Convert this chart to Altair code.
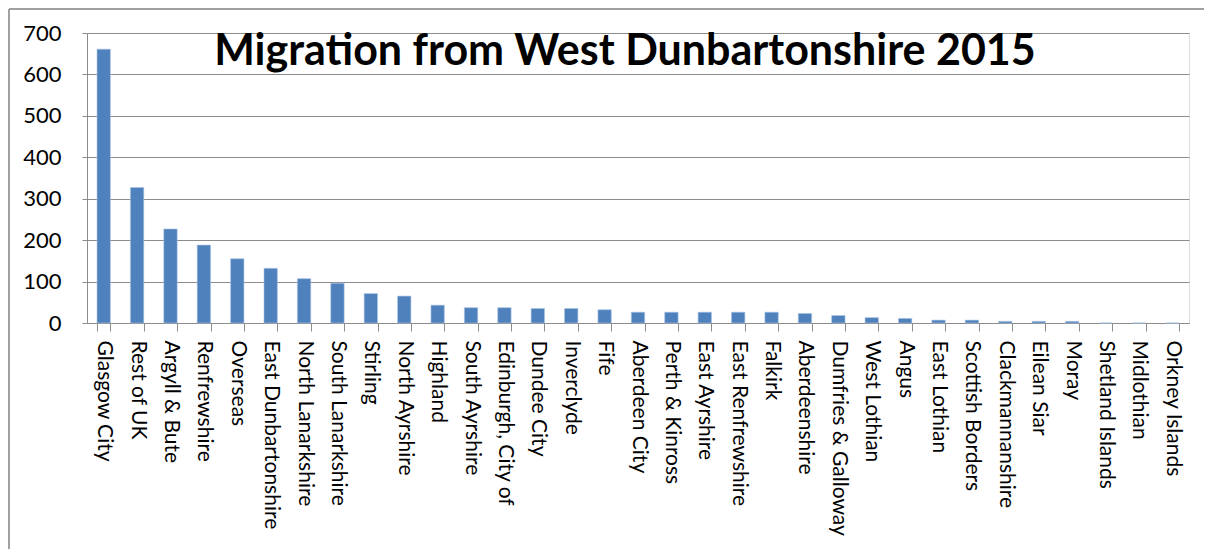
import altair as alt
import pandas as pd

areas = [
    "Glasgow City", "Rest of UK", "Argyll & Bute", "Renfrewshire", "Overseas",
    "East Dunbartonshire", "North Lanarkshire", "South Lanarkshire", "Stirling",
    "North Ayrshire", "Highland", "South Ayrshire", "Edinburgh, City of",
    "Dundee City", "Inverclyde", "Fife", "Aberdeen City", "Perth & Kinross",
    "East Ayrshire", "East Renfrewshire", "Falkirk", "Aberdeenshire",
    "Dumfries & Galloway", "West Lothian", "Angus", "East Lothian",
    "Scottish Borders", "Clackmannanshire", "Eilean Siar", "Moray",
    "Shetland Islands", "Midlothian", "Orkney Islands",
]
migrants = [
    661, 327, 227, 188, 155,
    132, 107, 96, 71,
    65, 43, 37, 37,
    35, 35, 32, 26, 26,
    26, 26, 26, 23,
    18, 13, 11, 7,
    7, 4, 4, 4,
    0, 0, 0,
]
y_ticks = [0, 100, 200, 300, 400, 500, 600, 700]

df = pd.DataFrame({"area": areas, "people": migrants})

FONT = "Lato"
GRID = "#8c8c8c"

bars = alt.Chart(df).mark_bar(color="#4F81BD", stroke="#a9c2e4", strokeWidth=0.6).encode(
    x=alt.X(
        "area:N",
        sort=areas,
        title=None,
        scale=alt.Scale(paddingInner=0.6, paddingOuter=0.3),
        axis=alt.Axis(
            labelAngle=90,
            labelFont=FONT,
            labelFontSize=21,
            labelColor="#000000",
            labelPadding=9,
            labelLimit=400,
            tickBand="extent",
            tickSize=8,
            tickColor=GRID,
            domainColor=GRID,
            grid=False,
        ),
    ),
    y=alt.Y(
        "people:Q",
        title=None,
        scale=alt.Scale(domain=[0, 700], nice=False),
        axis=alt.Axis(
            values=y_ticks,
            labelFont=FONT,
            labelFontSize=22,
            labelColor="#000000",
            labelPadding=21,
            tickSize=5,
            tickColor=GRID,
            domainColor=GRID,
            gridColor=GRID,
            gridWidth=1,
        ),
    ),
)

frame_left = alt.Chart(df).mark_rule(color="#a0a0a0", strokeWidth=2).encode(
    x=alt.value(-78), y=alt.value(-24), y2=alt.value(520)
)
frame_top = alt.Chart(df).mark_rule(color="#a0a0a0", strokeWidth=2).encode(
    x=alt.value(-78), x2=alt.value(1120), y=alt.value(-24)
)

chart = (
    alt.layer(bars, frame_left, frame_top)
    .properties(
        width=1102,
        height=290,
        autosize=alt.AutoSizeParams(type="none"),
        padding={"left": 79, "top": 25, "right": 15, "bottom": 226},
        title=alt.TitleParams(
            "Migration from West Dunbartonshire 2015",
            font=FONT,
            fontSize=43,
            fontWeight="bold",
            color="#000000",
            anchor="middle",
            baseline="top",
            offset=0,
            dy=66,
            dx=-13,
        ),
    )
    .configure_view(stroke=None)
    .configure(background="white")
)

chart.save("out.html", embed_options={"renderer": "svg", "actions": False})
